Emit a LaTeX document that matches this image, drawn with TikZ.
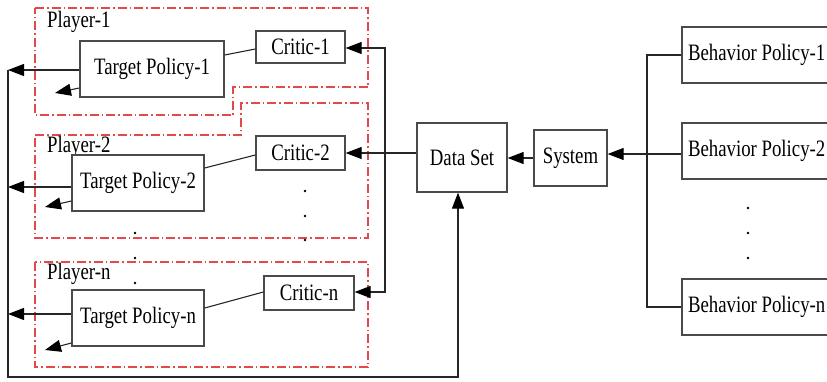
\documentclass[tikz,border=0pt]{standalone}
\usepackage{fontspec}
\setmainfont{Liberation Serif}[FakeStretch=0.8]
\usetikzlibrary{arrows.meta,calc}
\definecolor{boxgray}{HTML}{4A4A4A}
\definecolor{plred}{HTML}{E5484A}
\begin{document}
\begin{tikzpicture}[x=1pt,y=-1pt,
  every node/.style={font=\fontsize{23.5}{27}\selectfont, inner sep=0pt},
  blk/.style={draw=boxgray, line width=1.3pt, fill=white, align=center},
  arr/.style={draw=black!85, line width=1.1pt, -{Triangle[length=16pt,width=12pt,color=black]}},
  ln/.style={draw=black!85, line width=1.1pt},
  playerbox/.style={draw=plred, line width=1.2pt, dash pattern=on 9pt off 3pt on 1.5pt off 3pt},
  lab/.style={anchor=base west},
  dotm/.style={fill=black, circle, minimum size=2.6pt, inner sep=0pt}]
\useasboundingbox (0,0) rectangle (827,381);
\begin{scope}
\clip (0,0) rectangle (827,381);
% player regions
\draw[playerbox] (35,8) -- (368,8) -- (368,87) -- (233,87) -- (233,115) -- (35,115) -- cycle;
\draw[playerbox] (35,135) -- (241,135) -- (241,103) -- (368,103) -- (368,238) -- (35,238) -- cycle;
\draw[playerbox] (35,262) rectangle (368,367);
\node[lab] (p1) at (47,27) {Player-1};
\node[lab] (p2) at (47,152) {Player-2};
\node[lab] (pn) at (47,279) {Player-n};
% blocks
\node[blk, minimum width=144pt, minimum height=56pt] (tp1) at (152,69) {Target Policy-1};
\node[blk, minimum width=89pt, minimum height=32pt] (c1) at (300.5,47) {Critic-1};
\node[blk, minimum width=132pt, minimum height=56pt] (tp2) at (138,183) {Target Policy-2};
\node[blk, minimum width=89pt, minimum height=34pt] (c2) at (300.5,153) {Critic-2};
\node[blk, minimum width=132pt, minimum height=56pt] (tpn) at (138,318) {Target Policy-n};
\node[blk, minimum width=90pt, minimum height=34pt] (cn) at (309,293) {Critic-n};
\node[blk, minimum width=90pt, minimum height=69pt] (ds) at (462,157.5) {Data Set};
\node[blk, minimum width=73pt, minimum height=56pt] (sys) at (570.5,158) {System};
\node[blk, minimum width=160pt, minimum height=56pt] (bp1) at (762,55) {\makebox[148pt][l]{Behavior Policy-1}};
\node[blk, minimum width=160pt, minimum height=56pt] (bp2) at (762,151) {\makebox[148pt][l]{Behavior Policy-2}};
\node[blk, minimum width=160pt, minimum height=56pt] (bpn) at (762,307) {\makebox[148pt][l]{Behavior Policy-n}};
% helper coordinates
\coordinate (fbtop) at (8,70);
\coordinate (fbbot) at (8,377);
\coordinate (fbcorner) at (458,377);
\coordinate (l2) at (8,187);
\coordinate (ln) at (8,314);
\coordinate (s1) at (55,93);
\coordinate (s2) at (45,207);
\coordinate (sn) at (45,350);
\coordinate (bus) at (385,153);
\coordinate (bbus) at (647,155);
\coordinate (bp2in) at ([yshift=-3pt]bp2.west);
% policy - critic links
\draw[ln] ([yshift=14pt]tp1.east) -- ([yshift=-2pt]c1.west);
\draw[ln] ([yshift=15pt]tp2.east) -- ([yshift=-2pt]c2.west);
\draw[ln] ([yshift=10pt]tpn.east) -- ([yshift=1pt]cn.west);
% outputs of policies
\draw[arr] ([yshift=-1pt]tp1.west) -- (fbtop);
\draw[arr] ([yshift=-4pt]tp2.west) -- (l2);
\draw[arr] ([yshift=4pt]tpn.west) -- (ln);
\draw[arr] ([yshift=-19pt]tp1.west) -- (s1);
\draw[arr] ([yshift=-18pt]tp2.west) -- (s2);
\draw[arr] ([yshift=-25pt]tpn.west) -- (sn);
% feedback loop to data set
\draw[arr] (fbtop) -- (fbbot) -- (fbcorner) -- (fbcorner |- ds.south);
% data set to critics
\draw[arr] (c2.east -| ds.west) -- (c2.east);
\draw[arr] (bus) |- ([yshift=-1pt]c1.east);
\draw[arr] (bus) |- ([yshift=1pt]cn.east);
% system to data set
\draw[arr] (sys.west) -- (sys.west -| ds.east);
% behavior policies to system
\draw[ln] (bp1.west) -- (bp1.west -| bbus) -- (bpn.west -| bbus) -- (bpn.west);
\draw[arr] (bp2in) -- (bp2in -| sys.east);
% dots
\foreach \yy in {191,216,240} \node[dotm] at (305,\yy) {};
\foreach \yy in {233,258,283} \node[dotm] at (135,\yy) {};
\foreach \yy in {208,233,258} \node[dotm] at (748,\yy) {};
\end{scope}
\end{tikzpicture}
\end{document}
